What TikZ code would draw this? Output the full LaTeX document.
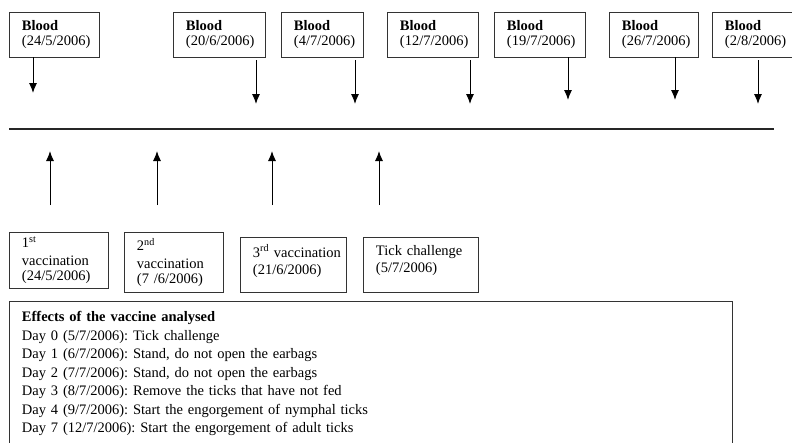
\documentclass[tikz,border=0pt]{standalone}
\usepackage{fontspec}
\setmainfont{Liberation Serif}
\usetikzlibrary{arrows.meta}

\tikzset{
  datebox/.style={draw=black!80, line width=0.9pt, anchor=north west, align=left,
    inner xsep=12.5pt, inner ysep=0pt, font=\fontsize{14.5}{15}\selectfont},
  arr/.style={line width=1pt, -{Latex[length=10pt,width=8pt]}}
}

\begin{document}
\frenchspacing
\begin{tikzpicture}[x=1pt,y=-1pt]

\useasboundingbox (0,0) rectangle (792,442);

\newcommand\bloodheight{45pt}

% blood samples
\node[datebox, text width=65pt, minimum height=\bloodheight] (blood1) at (9,12) {\textbf{Blood}\\(24/5/2006)};
\node[datebox, text width=67pt, minimum height=\bloodheight] (blood2) at (173,12) {\textbf{Blood}\\(20/6/2006)};
\node[datebox, text width=57pt, minimum height=\bloodheight] (blood3) at (281,12) {\textbf{Blood}\\(4/7/2006)};
\node[datebox, text width=66pt, minimum height=\bloodheight] (blood4) at (387,12) {\textbf{Blood}\\(12/7/2006)};
\node[datebox, text width=66pt, minimum height=\bloodheight] (blood5) at (494,12) {\textbf{Blood}\\(19/7/2006)};
\node[datebox, text width=64pt, minimum height=\bloodheight] (blood6) at (609,12) {\textbf{Blood}\\(26/7/2006)};
\node[datebox, text width=58pt, minimum height=\bloodheight] (blood7) at (712,12) {\textbf{Blood}\\(2/8/2006)};

\foreach \i/\x/\ya/\yb in {1/33/57/93, 2/256/60/104, 3/355/60/104, 4/470/60/104,
                           5/568/57/100, 6/675/57/100, 7/758/60/104}
{
  \coordinate (bloodTail\i) at (\x,\ya);
  \coordinate (bloodTip\i) at (\x,\yb);
  \draw[arr] (bloodTail\i) -- (bloodTip\i);
}

% time line
\coordinate (timeStart) at (9,129);
\coordinate (timeEnd) at (774,129);
\draw[line width=1.3pt, black!85] (timeStart) -- (timeEnd);

\foreach \i/\x in {1/50, 2/157, 3/272, 4/379}
{
  \coordinate (eventTail\i) at (\x,205);
  \coordinate (eventTip\i) at (\x,151);
  \draw[arr] (eventTail\i) -- (eventTip\i);
}

% vaccinations and challenge
\node[datebox, text width=74pt, minimum height=56pt] (vacc1) at (9,232) {1\textsuperscript{st}\\[3pt]vaccination\\(24/5/2006)};
\node[datebox, text width=74pt, minimum height=60pt] (vacc2) at (124,232) {2\textsuperscript{nd}\\[3pt]vaccination\\(7 /6/2006)};
\node[datebox, text width=81pt, minimum height=55pt, text depth=28pt] (vacc3) at (240,237) {\mbox{3\textsuperscript{rd} vaccination}\\[2pt](21/6/2006)};
\node[datebox, text width=90pt, minimum height=55pt, text depth=28pt] (challenge) at (363,237) {\mbox{Tick challenge}\\[2pt](5/7/2006)};

% \node at (0,0) {};

\node[datebox, text width=698pt, inner ysep=10pt, font=\fontsize{14.5}{18.5}\selectfont] (effects) at (9,301)
  {\textbf{Effects of the vaccine analysed}\\
   Day 0 (5/7/2006): Tick challenge\\
   Day 1 (6/7/2006): Stand, do not open the earbags\\
   Day 2 (7/7/2006): Stand, do not open the earbags\\
   Day 3 (8/7/2006): Remove the ticks that have not fed\\
   Day 4 (9/7/2006): Start the engorgement of nymphal ticks\\
   Day 7 (12/7/2006): Start the engorgement of adult ticks};

\end{tikzpicture}
\end{document}
